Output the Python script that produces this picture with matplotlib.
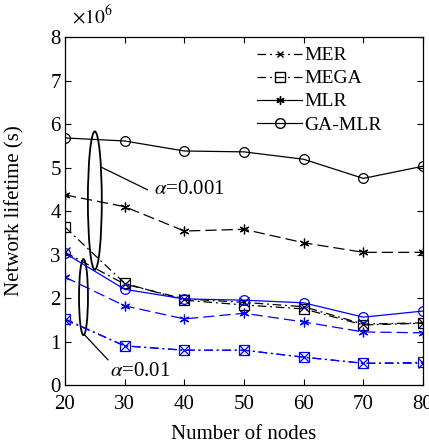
import numpy as np
import matplotlib
matplotlib.use("Agg")
import matplotlib.pyplot as plt
from matplotlib.patches import Ellipse
from matplotlib.lines import Line2D

plt.rcParams['font.family'] = ['Liberation Serif', 'DejaVu Serif']
plt.rcParams['mathtext.fontset'] = 'stix'

nodes = [20, 30, 40, 50, 60, 70, 80]

# alpha = 0.001 (black), lifetime in units of 1e6 s
mer_a1 = [3.05, 2.32, 1.98, 1.90, 1.80, 1.40, 1.43]
mega_a1 = [3.63, 2.34, 1.95, 1.84, 1.75, 1.38, 1.42]
mlr_a1 = [4.37, 4.10, 3.54, 3.58, 3.27, 3.05, 3.05]
gamlr_a1 = [5.68, 5.61, 5.38, 5.36, 5.19, 4.75, 5.03]

# alpha = 0.01 (blue)
mer_a2 = [1.50, 0.90, 0.80, 0.80, 0.64, 0.50, 0.50]
mega_a2 = [1.52, 0.90, 0.80, 0.80, 0.64, 0.50, 0.52]
mlr_a2 = [2.48, 1.82, 1.52, 1.65, 1.45, 1.22, 1.20]
gamlr_a2 = [3.03, 2.20, 1.98, 1.95, 1.89, 1.56, 1.70]

yticks = [0, 1, 2, 3, 4, 5, 6, 7, 8]

dashdot = (0, (7, 3, 1.5, 3))
longdash = (0, (9, 4))
star = (6, 2, 0)
fs = 15

fig = plt.figure(figsize=(4.29, 4.45), dpi=100)
ax = fig.add_axes([0.1515, 0.1348, 0.8345, 0.7820])

def series(vals, color, ls, marker):
    ax.plot(nodes, vals, color=color, ls=ls, lw=0.9,
            marker=marker, ms=7, mfc='none', mec=color, mew=0.9)

for c, s in [('k', [mer_a1, mega_a1, mlr_a1, gamlr_a1]),
             ('#0000ff', [mer_a2, mega_a2, mlr_a2, gamlr_a2])]:
    series(s[0], c, dashdot, 'x')
    series(s[1], c, dashdot, 's')
    series(s[2], c, longdash, star)
    series(s[3], c, '-', 'o')

# ellipses marking the two alpha groups
ax.add_patch(Ellipse((25.0, 4.24), 2.33, 3.18, fill=False, ec='k', lw=1.3))
ax.add_patch(Ellipse((23.1, 2.02), 1.5, 1.75, fill=False, ec='k', lw=1.3))
ax.plot([26.2, 33.8], [5.0, 4.49], color='k', lw=0.9)
ax.plot([23.3, 27.2], [1.15, 0.58], color='k', lw=0.9)
ax.text(35.0, 4.49, r'$\alpha$=0.001', fontsize=fs, va='center', ha='left')
ax.text(27.5, 0.30, r'$\alpha$=0.01', fontsize=fs, va='center', ha='left')

ax.set_xlim(20, 80)
ax.set_ylim(0, 8)
ax.set_xticks(nodes)
ax.set_yticks(yticks)
ax.tick_params(axis='x', pad=7)
ax.tick_params(axis='y', pad=3)
ax.tick_params(direction='in', top=True, right=True, labelsize=fs, length=4, width=0.8)
for sp in ax.spines.values():
    sp.set_linewidth(0.9)

fig.text(72 / 429, 1 - 23 / 445, r'$\times 10^{6}$', fontsize=14, va='baseline', ha='left')

ax.set_xlabel('Number of nodes', fontsize=fs)
ax.xaxis.set_label_coords(0.5, -0.143)
ax.xaxis.label.set_va('center')
ax.set_ylabel('Network lifetime (s)', fontsize=fs)
ax.yaxis.set_label_coords(-0.14, 0.5)
ax.yaxis.label.set_va('center')

handles = [
    Line2D([], [], color='k', ls=dashdot, lw=0.9, marker='x', ms=5, mfc='none'),
    Line2D([], [], color='k', ls=dashdot, lw=0.9, marker='s', ms=7, mfc='none'),
    Line2D([], [], color='k', ls='-', lw=0.9, marker=star, ms=6, mfc='none'),
    Line2D([], [], color='k', ls='-', lw=0.9, marker='o', ms=7, mfc='none'),
]
ax.legend(handles, ['MER', 'MEGA', 'MLR', 'GA-MLR'], loc='upper left', frameon=False,
          fontsize=14, handlelength=2.3, handletextpad=0.1, labelspacing=0.28,
          bbox_to_anchor=(0.51, 1.0), borderaxespad=0.1)

fig.savefig('out.png', dpi=100)
